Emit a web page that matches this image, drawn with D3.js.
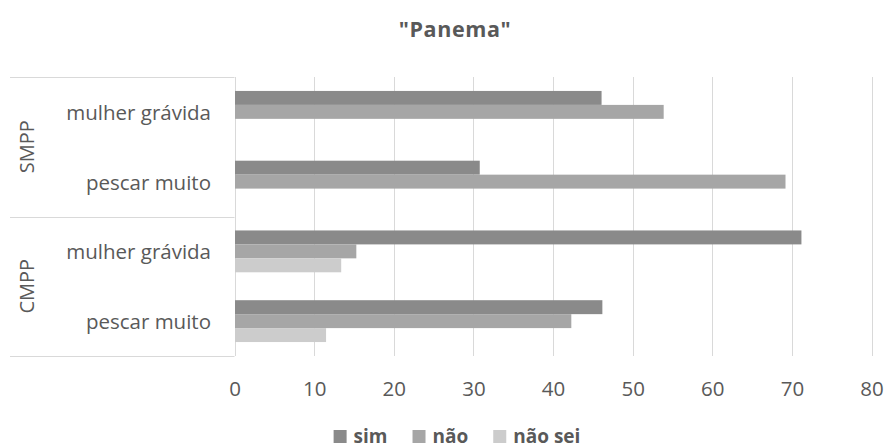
<!DOCTYPE html>
<html><head><meta charset="utf-8">
<script src="https://cdn.jsdelivr.net/npm/d3@7"></script>
<style>body{margin:0;background:#fff}svg{display:block}text{font-family:"Open Sans",sans-serif;fill:#595959}</style>
</head><body><svg id="c" width="885" height="448"></svg>
<script>
const title = '"Panema"';
const groups = ["SMPP", "CMPP"];
const categories = ["mulher grávida", "pescar muito"];
const seriesNames = ["sim", "não", "não sei"];
const seriesColors = ["#8a8a8a", "#a6a6a6", "#cccccc"];
// values per row, order: SMPP-mulher grávida, SMPP-pescar muito, CMPP-mulher grávida, CMPP-pescar muito
const sim    = [46.1, 30.8, 71.2, 46.2];
const nao    = [53.9, 69.2, 15.3, 42.3];
const naoSei = [0, 0, 13.4, 11.5];
const ticks = [0, 10, 20, 30, 40, 50, 60, 70, 80];

const seriesVals = [sim, nao, naoSei];
const rows = [];
groups.forEach(g => categories.forEach(c => rows.push({g, c, key: g + "|" + c})));

const svg = d3.select("#c");
const x = d3.scaleLinear().domain([0, 80]).range([234.5, 871.5]);
const y = d3.scaleBand().domain(rows.map(r => r.key)).range([77, 356]).paddingInner(0.4).paddingOuter(0.2);
const ys = d3.scaleBand().domain(seriesNames).range([0, y.bandwidth()]);
const plotTop = 77, plotBottom = 356;
const font = '"Open Sans",sans-serif';

// gridlines
svg.append("g").selectAll("line").data(ticks).join("line")
  .attr("x1", d => Math.round(x(d)) + 0.5).attr("x2", d => Math.round(x(d)) + 0.5)
  .attr("y1", plotTop).attr("y2", plotBottom)
  .attr("stroke", "#d9d9d9").attr("stroke-width", 1);

// group separators
const sepY = [plotTop, y(rows[2].key) - y.step() * y.paddingInner() / 2, plotBottom];
svg.append("g").selectAll("line").data(sepY).join("line")
  .attr("x1", 10).attr("x2", x(0))
  .attr("y1", d => Math.round(d) + 0.5).attr("y2", d => Math.round(d) + 0.5)
  .attr("stroke", "#d9d9d9").attr("stroke-width", 1);

// bars
seriesNames.forEach((s, si) => {
  svg.append("g").selectAll("rect").data(rows.map((r, i) => ({r, v: seriesVals[si][i]})).filter(d => d.v > 0)).join("rect")
    .attr("x", x(0) + 0.5)
    .attr("y", d => y(d.r.key) + ys(s))
    .attr("width", d => x(d.v) - x(0) - 0.5)
    .attr("height", ys.bandwidth())
    .attr("fill", seriesColors[si]);
});

// x axis labels
const xAxis = d3.axisBottom(x).tickValues(ticks).tickSize(0).tickPadding(0).tickFormat(d3.format("d"));
const gx = svg.append("g").attr("transform", "translate(0,396)").call(xAxis);
gx.select(".domain").remove();
gx.selectAll("text").attr("dy", 0).attr("y", 0).style("font-size", "20.5px").style("fill", "#595959").style("font-family", font);

// category labels
const yAxis = d3.axisLeft(y).tickSize(0).tickPadding(0).tickFormat(k => k.split("|")[1]);
const gy = svg.append("g").attr("transform", "translate(211,1.5)").call(yAxis);
gy.select(".domain").remove();
gy.selectAll("text").style("font-size", "20.5px").style("fill", "#595959").style("font-family", font);

// group labels
groups.forEach((g, gi) => {
  const cy = (sepY[gi] + sepY[gi + 1]) / 2;
  svg.append("text").attr("transform", `translate(26,${cy}) rotate(-90)`)
    .attr("text-anchor", "middle").attr("dominant-baseline", "central")
    .style("font-size", "20px").text(g);
});

// title
svg.append("text").attr("x", 455).attr("y", 37).attr("text-anchor", "middle")
  .style("font-size", "21.5px").style("font-weight", "bold").style("letter-spacing", "0.6px").text(title);

// legend
const lg = svg.append("g");
let cx = 0;
const gap = 25;
seriesNames.forEach((s, i) => {
  const it = lg.append("g").attr("transform", `translate(${cx},0)`);
  it.append("rect").attr("x", 0).attr("y", -13).attr("width", 13).attr("height", 13).attr("fill", seriesColors[i]);
  const t = it.append("text").attr("x", 20).attr("y", 0).style("font-size", "19px").style("font-weight", "bold").text(s);
  cx += 20 + t.node().getComputedTextLength() + gap;
});
const lw = cx - gap;
lg.attr("transform", `translate(${457 - lw / 2},443)`);
</script></body></html>
